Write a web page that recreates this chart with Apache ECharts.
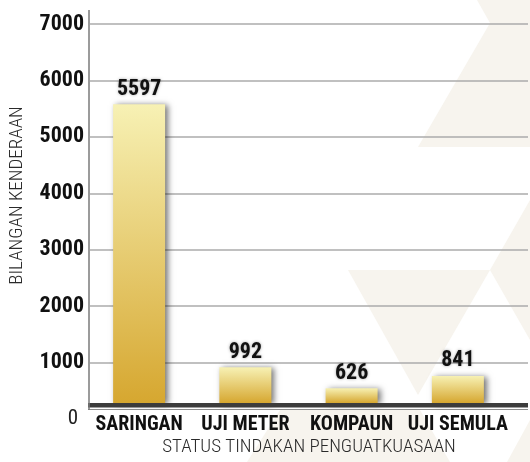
<!DOCTYPE html>
<html>
<head>
<meta charset="utf-8">
<script src="https://cdn.jsdelivr.net/npm/echarts@6/dist/echarts.min.js"></script>
<style>
  html, body { margin: 0; padding: 0; background: #fff; }
  #chart { width: 530px; height: 462px; }
</style>
</head>
<body>
<div id="chart"></div>
<script>
var categories = ['SARINGAN', 'UJI METER', 'KOMPAUN', 'UJI SEMULA'];
var counts = [5597, 992, 626, 841];
var yTicks = [0, 1000, 2000, 3000, 4000, 5000, 6000, 7000];
var yTitle = 'BILANGAN KENDERAAN';
var xTitle = 'STATUS TINDAKAN PENGUATKUASAAN';

var narrow = '"Roboto Condensed", sans-serif';
var bg = '#f7f4ee';

var myChart = echarts.init(document.getElementById('chart'));
myChart.setOption({
  animation: false,
  backgroundColor: '#fff',
  // grid 0 carries the visible value axis + gridlines, grid 1 carries the bars
  grid: [
    {left: 89, right: 2, top: 24, bottom: 38},
    {left: 86, right: 19, top: 24, bottom: 59}
  ],
  xAxis: [
    {
      gridIndex: 0, type: 'category', data: categories,
      axisLine: {show: false}, axisTick: {show: false}, axisLabel: {show: false},
      name: xTitle, nameLocation: 'middle', nameGap: 19,
      nameTextStyle: {fontFamily: narrow, fontWeight: 300, fontSize: 19, color: '#2a2a2a'}
    },
    {
      gridIndex: 1, type: 'category', data: categories,
      axisLine: {show: false}, axisTick: {show: false},
      axisLabel: {
        interval: 0, margin: 22, verticalAlign: 'middle',
        fontFamily: narrow, fontWeight: 'bold', fontSize: 20, color: '#111'
      }
    }
  ],
  yAxis: [
    {
      gridIndex: 0, type: 'value',
      min: yTicks[0], max: yTicks[yTicks.length - 1], interval: yTicks[1] - yTicks[0],
      axisLine: {show: false}, axisTick: {show: false},
      splitLine: {showMinLine: false, lineStyle: {color: '#ababab', width: 1.5}},
      axisLabel: {
        margin: 6,
        fontFamily: narrow, fontWeight: 'bold', fontSize: 22, color: '#111',
        formatter: function (v) { return v === 0 ? '{zero|0}' : String(v); },
        rich: {
          zero: {fontFamily: narrow, fontWeight: 'normal',
                 fontSize: 21, color: '#222', padding: [0, 6, 0, 0]}
        }
      },
      name: yTitle, nameLocation: 'middle', nameGap: 63, nameRotate: 90,
      nameTextStyle: {fontFamily: narrow, fontWeight: 300, fontSize: 19, color: '#2a2a2a', padding: [0, 0, 0, 52]}
    },
    {
      // same scale as axis 0, but its floor sits on the dark base band
      gridIndex: 1, type: 'value', min: 367.5, max: yTicks[yTicks.length - 1], show: false
    }
  ],
  graphic: [
    {type: 'polygon', z: -10, silent: true, shape: {points: [[477, 0], [530, 0], [530, 147], [418, 147], [490, 23]]}, style: {fill: bg}},
    {type: 'polygon', z: -10, silent: true, shape: {points: [[348, 270], [490, 270], [418, 395]]}, style: {fill: bg}},
    {type: 'polygon', z: -10, silent: true, shape: {points: [[490, 270], [530, 200], [530, 340]]}, style: {fill: bg}},
    {type: 'polygon', z: -10, silent: true, shape: {points: [[247, 462], [280, 410], [420, 410], [450, 462]]}, style: {fill: bg}},
    {type: 'polygon', z: -10, silent: true, shape: {points: [[507, 462], [530, 420], [530, 462]]}, style: {fill: bg}},
    {type: 'rect', z: 10, silent: true, shape: {x: 88, y: 403, width: 440, height: 4.5}, style: {fill: '#3c3c3c'}},
    {type: 'line', z: 10, silent: true, shape: {x1: 88, y1: 409.5, x2: 528, y2: 409.5}, style: {stroke: '#8c8c8c', lineWidth: 1}},
    {type: 'line', z: 10, silent: true, shape: {x1: 89, y1: 10, x2: 89, y2: 410}, style: {stroke: '#7a7a7a', lineWidth: 1.5}}
  ],
  series: [
    {
      type: 'bar', xAxisIndex: 1, yAxisIndex: 1,
      data: counts,
      barWidth: 52,
      itemStyle: {
        color: new echarts.graphic.LinearGradient(0, 0, 0, 1, [
          {offset: 0, color: '#f7f1b4'},
          {offset: 1, color: '#d6a730'}
        ]),
        shadowColor: 'rgba(0, 0, 0, 0.55)',
        shadowBlur: 6,
        shadowOffsetX: 3,
        shadowOffsetY: 1
      },
      label: {
        show: true, position: 'top', distance: 4,
        fontFamily: narrow, fontWeight: 'bold', fontSize: 22, color: '#111',
        textShadowColor: 'rgba(0, 0, 0, 0.35)', textShadowBlur: 3
      }
    }
  ]
});
</script>
</body>
</html>
